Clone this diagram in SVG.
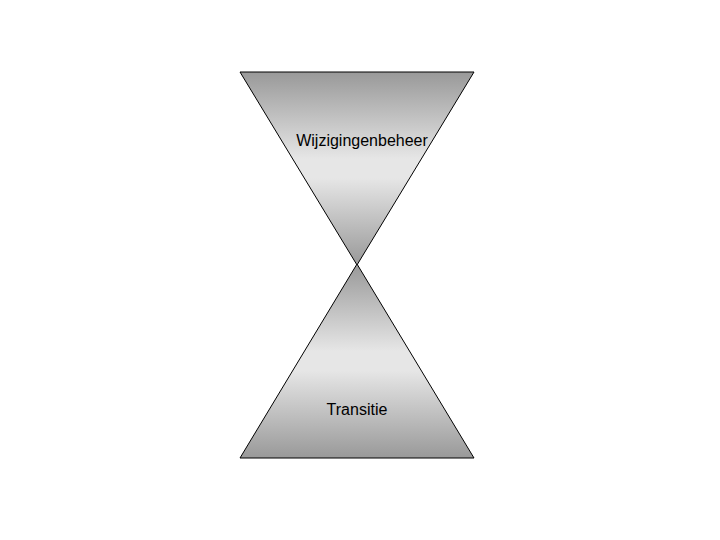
<svg xmlns="http://www.w3.org/2000/svg" width="720" height="540" viewBox="0 0 720 540">
<defs>
<linearGradient id="g" x1="0" y1="0" x2="0" y2="1">
<stop offset="0" stop-color="#999999"/>
<stop offset="0.45" stop-color="#e6e6e6"/>
<stop offset="0.55" stop-color="#e6e6e6"/>
<stop offset="1" stop-color="#999999"/>
</linearGradient>
<style>
.tri{fill:url(#g);stroke:#000;stroke-width:1}
.lbl{font-family:"Liberation Sans",Arial,sans-serif;font-size:16px;fill:#000;text-anchor:middle}
</style>
</defs>
<rect width="720" height="540" fill="#fff"/>
<g id="wijzigingenbeheer">
<polygon class="tri" points="240,72 474,72 357,265"/>
<text class="lbl" x="362" y="146">Wijzigingenbeheer</text>
</g>
<g id="transitie">
<polygon class="tri" points="357,264 474,458 240,458"/>
<text class="lbl" x="357" y="415">Transitie</text>
</g>
<g id="connectors"/>
</svg>
